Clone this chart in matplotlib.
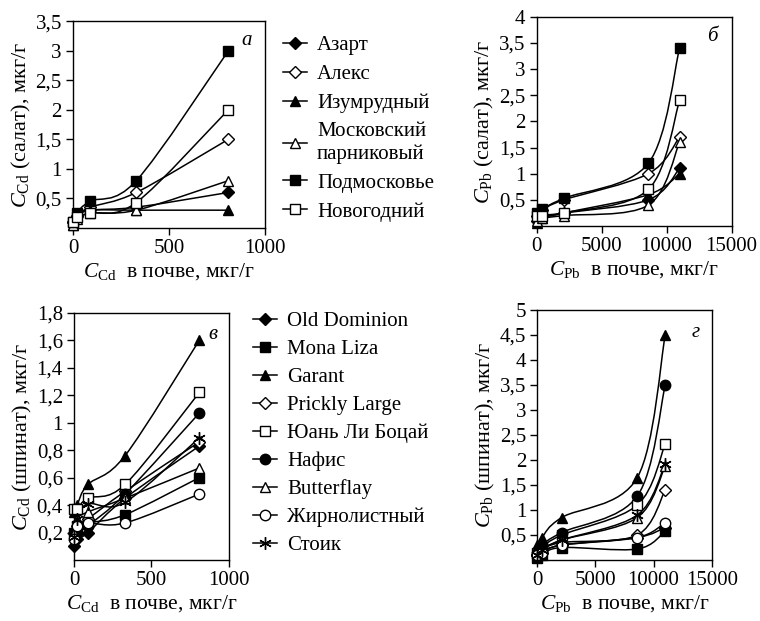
import numpy as np
import matplotlib
matplotlib.use('Agg')
import matplotlib.pyplot as plt
from matplotlib.path import Path
from matplotlib.patches import PathPatch
from matplotlib.lines import Line2D

plt.rcParams['font.family'] = 'Liberation Serif'
plt.rcParams['mathtext.fontset'] = 'custom'
plt.rcParams['mathtext.rm'] = 'Liberation Serif'
plt.rcParams['mathtext.it'] = 'Liberation Serif:italic'

# soil concentrations, mkg/g
cd_soil = [0, 20, 90, 330, 810]
pb_soil = [0, 400, 2100, 8600, 11000]

# salad (lettuce) varieties
salad_names = ['Азарт', 'Алекс', 'Изумрудный', 'Московский\nпарниковый',
               'Подмосковье', 'Новогодний']
salad_cd = [
    [0.10, 0.20, 0.30, 0.35, 0.60],
    [0.10, 0.20, 0.35, 0.60, 1.50],
    [0.05, 0.20, 0.30, 0.30, 0.30],
    [0.05, 0.15, 0.25, 0.30, 0.80],
    [0.10, 0.25, 0.45, 0.80, 3.00],
    [0.10, 0.18, 0.25, 0.43, 2.00],
]
salad_pb = [
    [0.10, 0.20, 0.25, 0.50, 1.10],
    [0.20, 0.30, 0.50, 1.00, 1.70],
    [0.05, 0.15, 0.25, 0.60, 1.00],
    [0.10, 0.15, 0.20, 0.40, 1.60],
    [0.25, 0.32, 0.53, 1.20, 3.40],
    [0.20, 0.20, 0.25, 0.70, 2.40],
]

# spinach varieties
spinach_names = ['Old Dominion', 'Mona Liza', 'Garant', 'Prickly Large',
                 'Юань Ли Боцай', 'Нафис', 'Butterflay', 'Жирнолистный', 'Стоик']
spinach_cd = [
    [0.10, 0.15, 0.20, 0.45, 0.83],
    [0.20, 0.25, 0.27, 0.33, 0.60],
    [0.35, 0.40, 0.55, 0.76, 1.60],
    [0.20, 0.25, 0.30, 0.50, 0.86],
    [0.37, 0.37, 0.45, 0.55, 1.22],
    [0.20, 0.20, 0.25, 0.48, 1.07],
    [0.20, 0.30, 0.35, 0.45, 0.67],
    [0.15, 0.25, 0.27, 0.27, 0.48],
    [0.17, 0.30, 0.41, 0.42, 0.89],
]
spinach_pb = [
    [0.10, 0.15, 0.30, 0.45, 0.65],
    [0.05, 0.10, 0.25, 0.22, 0.58],
    [0.30, 0.45, 0.85, 1.65, 4.50],
    [0.10, 0.20, 0.35, 0.50, 1.40],
    [0.15, 0.25, 0.50, 1.10, 2.32],
    [0.15, 0.30, 0.55, 1.28, 3.50],
    [0.10, 0.20, 0.40, 0.85, 1.88],
    [0.10, 0.15, 0.30, 0.45, 0.75],
    [0.10, 0.20, 0.40, 0.90, 1.92],
]

# marker styles: (marker, filled, size)
salad_style = [('D', True, 6), ('D', False, 6), ('^', True, 7.5),
               ('^', False, 7.5), ('s', True, 7), ('s', False, 7)]
spinach_style = [('D', True, 6), ('s', True, 7), ('^', True, 7.5),
                 ('D', False, 6), ('s', False, 7.5), ('o', True, 7.5),
                 ('^', False, 7.5), ('o', False, 7.5), ((6, 2, 0), False, 9)]


def smooth_path(x, y):
    pts = np.column_stack([x, y]).astype(float)
    n = len(pts)
    verts = [pts[0]]
    codes = [Path.MOVETO]
    for i in range(n - 1):
        p0 = pts[i - 1] if i > 0 else pts[i]
        p1 = pts[i]
        p2 = pts[i + 1]
        p3 = pts[i + 2] if i + 2 < n else pts[i + 1]
        verts += [p1 + (p2 - p0) / 6, p2 - (p3 - p1) / 6, p2]
        codes += [Path.CURVE4] * 3
    return Path(verts, codes)


def draw(ax, xs, series, styles):
    handles = []
    for ys, (m, filled, ms) in zip(series, styles):
        ax.add_patch(PathPatch(smooth_path(xs, ys), facecolor='none',
                               edgecolor='black', lw=1.1, zorder=2, clip_on=False))
        fc = 'black' if filled else 'white'
        ax.plot(xs, ys, ls='none', marker=m, ms=ms, mfc=fc, mec='black',
                mew=1.0, zorder=3, clip_on=False)
        handles.append(Line2D([], [], color='black', lw=1.1, marker=m, ms=ms,
                              mfc=fc, mec='black', mew=1.0))
    return handles


def fmt(v):
    return ('%g' % v).replace('.', ',')


def style_axis(ax, xlim, xticks, ylim, yticks, xlab, ylab, letter):
    ax.set_xlim(*xlim)
    ax.set_ylim(*ylim)
    ax.set_xticks(xticks)
    ax.set_xticklabels([str(t) for t in xticks])
    ax.set_yticks(yticks)
    ax.set_yticklabels([fmt(t) for t in yticks])
    ax.tick_params(direction='out', length=5, width=1, labelsize=15, pad=3)
    for s in ax.spines.values():
        s.set_linewidth(1.0)
    ax.set_xlabel(xlab, fontsize=15.5, labelpad=2)
    ax.set_ylabel(ylab, fontsize=16, labelpad=2)
    ax.text(0.93, 0.95, letter, transform=ax.transAxes, ha='right', va='top',
            fontsize=15, style='italic')


fig = plt.figure(figsize=(7.6, 6.21), dpi=100)

ax_a = fig.add_axes([0.096, 0.633, 0.2526, 0.333])
ax_b = fig.add_axes([0.706, 0.636, 0.2566, 0.337])
ax_c = fig.add_axes([0.0974, 0.0982, 0.2035, 0.398])
ax_d = fig.add_axes([0.707, 0.0982, 0.2295, 0.4026])

h_salad = draw(ax_a, cd_soil, salad_cd, salad_style)
draw(ax_b, pb_soil, salad_pb, salad_style)
h_spinach = draw(ax_c, cd_soil, spinach_cd, spinach_style)
draw(ax_d, pb_soil, spinach_pb, spinach_style)

xl_cd = r'$C_{\mathrm{Cd}}$  в почве, мкг/г'
xl_pb = r'$C_{\mathrm{Pb}}$  в почве, мкг/г'
style_axis(ax_a, (0, 1000), [0, 500, 1000], (0, 3.5),
           [0.5, 1, 1.5, 2, 2.5, 3, 3.5], xl_cd,
           r'$C_{\mathrm{Cd}}$ (салат), мкг/г', 'а')
style_axis(ax_b, (0, 15000), [0, 5000, 10000, 15000], (0, 4),
           [0.5, 1, 1.5, 2, 2.5, 3, 3.5, 4], xl_pb,
           r'$C_{\mathrm{Pb}}$ (салат), мкг/г', 'б')
style_axis(ax_c, (0, 1000), [0, 500, 1000], (0, 1.8),
           [0.2, 0.4, 0.6, 0.8, 1, 1.2, 1.4, 1.6, 1.8], xl_cd,
           r'$C_{\mathrm{Cd}}$ (шпинат), мкг/г', 'в')
style_axis(ax_d, (0, 15000), [0, 5000, 10000, 15000], (0, 5),
           [0.5, 1, 1.5, 2, 2.5, 3, 3.5, 4, 4.5, 5], xl_pb,
           r'$C_{\mathrm{Pb}}$ (шпинат), мкг/г', 'г')

fig.legend(h_salad, salad_names, loc='upper left', bbox_to_anchor=(0.372, 0.943),
           frameon=False, fontsize=15, handlelength=1.15, handletextpad=0.5,
           labelspacing=0.45, borderpad=0, borderaxespad=0)
fig.legend(h_spinach, spinach_names, loc='upper left', bbox_to_anchor=(0.333, 0.498),
           frameon=False, fontsize=15, handlelength=1.15, handletextpad=0.5,
           labelspacing=0.4, borderpad=0, borderaxespad=0)

fig.savefig('out.png', dpi=100)
